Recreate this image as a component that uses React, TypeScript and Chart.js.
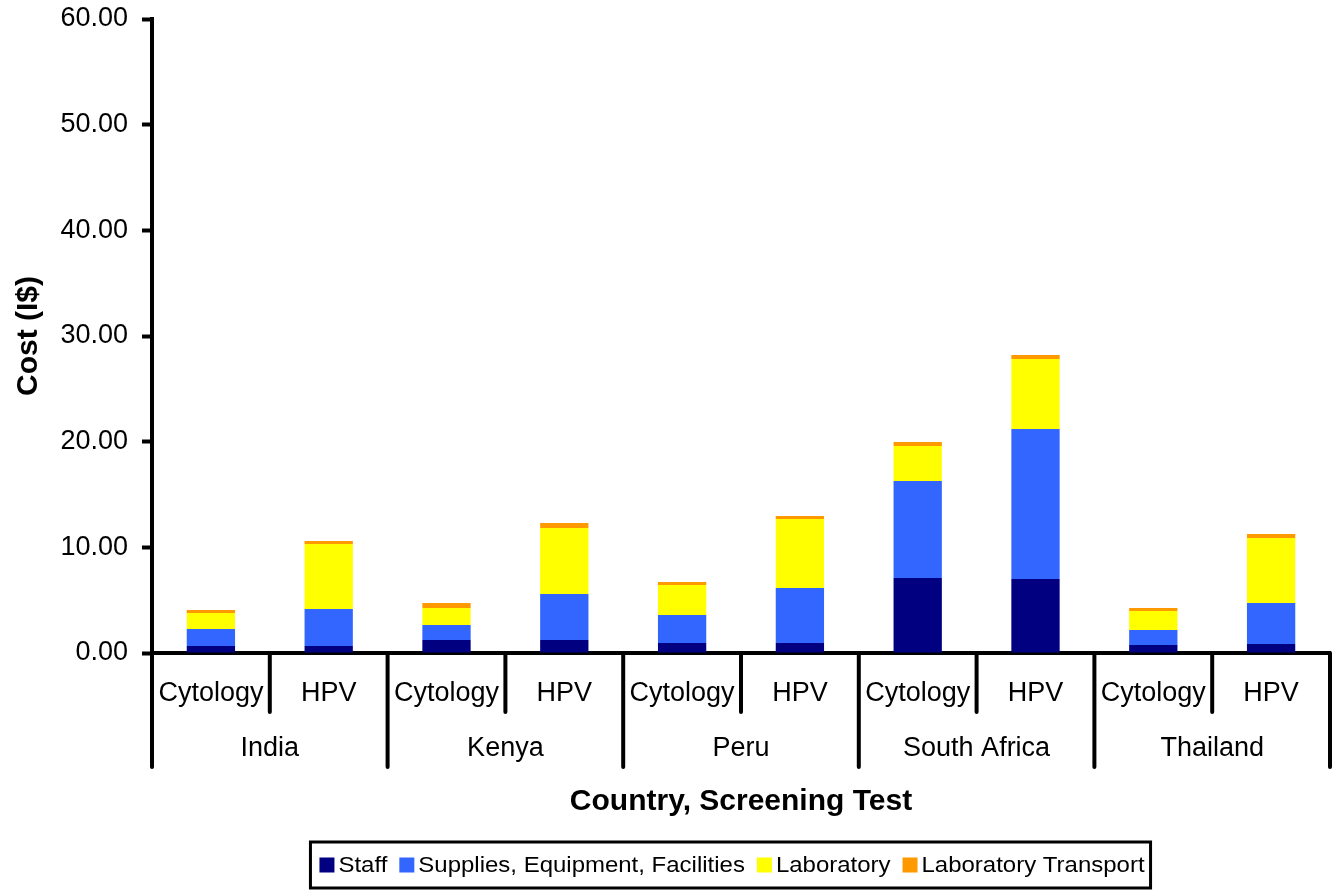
import React, { useEffect, useRef } from "react";
import { Chart, registerables } from "chart.js";

Chart.register(...registerables);

const FONT = "'Liberation Sans', Arial, Helvetica, sans-serif";

// Data
const countries = ["India", "Kenya", "Peru", "South Africa", "Thailand"];
const tests = ["Cytology", "HPV"];
const barLabels = countries.flatMap(() => tests);
const staff = [0.66, 0.66, 1.23, 1.23, 0.95, 0.95, 7.1, 7.0, 0.76, 0.85];
const supplies = [1.61, 3.5, 1.42, 4.35, 2.65, 5.2, 9.18, 14.2, 1.42, 3.88];
const laboratory = [1.52, 6.16, 1.61, 6.25, 2.83, 6.53, 3.31, 6.62, 1.79, 6.15];
const transport = [0.28, 0.28, 0.47, 0.47, 0.29, 0.29, 0.38, 0.38, 0.29, 0.38];
const seriesNames = ["Staff", "Supplies, Equipment, Facilities", "Laboratory", "Laboratory Transport"];
const seriesColors = ["#000080", "#3366FF", "#FFFF00", "#FF9900"];
const yMin = 0;
const yMax = 60;
const yStep = 10;
const yTitle = "Cost (I$)";
const xTitle = "Country, Screening Test";

const groupAxisPlugin = {
  id: "groupAxis",
  afterDraw(chart: any) {
    const { ctx, chartArea, scales } = chart;
    const x = scales.x;
    const n = chart.data.labels.length;
    const w = (chartArea.right - chartArea.left) / n;
    ctx.save();
    ctx.strokeStyle = "#000";
    ctx.lineWidth = 4;
    ctx.lineCap = "round";
    for (let i = 0; i <= n; i++) {
      const px = chartArea.left + i * w;
      const end = i % 2 === 0 ? chartArea.bottom + 114 : chartArea.bottom + 59;
      ctx.beginPath();
      ctx.moveTo(px, chartArea.bottom);
      ctx.lineTo(px, end);
      ctx.stroke();
    }
    ctx.fillStyle = "#000";
    ctx.font = `27px ${FONT}`;
    ctx.textAlign = "center";
    ctx.textBaseline = "middle";
    countries.forEach((c, k) => {
      const cx = (x.getPixelForValue(2 * k) + x.getPixelForValue(2 * k + 1)) / 2;
      ctx.fillText(c, cx, chartArea.bottom + 96);
    });
    ctx.restore();
  },
};

const boxLegendPlugin = {
  id: "boxLegend",
  afterDraw(chart: any) {
    const { ctx, chartArea } = chart;
    ctx.save();
    ctx.font = `22px ${FONT}`;
    const sx = 1.09;
    const sw = 15;
    const gapST = 4;
    const gapItem = 12;
    const items = chart.data.datasets.map((d: any) => ({
      label: d.label,
      color: d.backgroundColor,
      tw: ctx.measureText(d.label).width * sx,
    }));
    const total =
      items.reduce((a: number, it: any) => a + sw + gapST + it.tw, 0) + gapItem * (items.length - 1);
    const center = (chartArea.left + chartArea.right) / 2 - 9;
    let xPos = center - total / 2;
    const top = chart.height - 51;
    const bottom = chart.height - 5;
    const midY = (top + bottom) / 2;
    ctx.strokeStyle = "#000";
    ctx.lineWidth = 3;
    ctx.strokeRect(xPos - 9, top, total + 15, bottom - top);
    ctx.textBaseline = "middle";
    ctx.textAlign = "left";
    items.forEach((it: any) => {
      ctx.fillStyle = it.color;
      ctx.fillRect(xPos, midY - sw / 2, sw, sw);
      xPos += sw + gapST;
      ctx.fillStyle = "#000";
      ctx.save();
      ctx.translate(xPos, midY + 1);
      ctx.scale(sx, 1);
      ctx.fillText(it.label, 0, 0);
      ctx.restore();
      xPos += it.tw + gapItem;
    });
    ctx.restore();
  },
};

export default function App() {
  const ref = useRef<HTMLCanvasElement>(null);
  useEffect(() => {
    document.body.style.margin = "0";
    const values = [staff, supplies, laboratory, transport];
    const chart = new Chart(ref.current as HTMLCanvasElement, {
      type: "bar",
      data: {
        labels: barLabels,
        datasets: values.map((v, i) => ({
          label: seriesNames[i],
          data: v,
          backgroundColor: seriesColors[i],
          borderWidth: 0,
          barPercentage: 0.41,
          categoryPercentage: 1,
        })),
      },
      options: {
        responsive: false,
        animation: false,
        devicePixelRatio: 1,
        layout: { padding: { top: 19, right: 10, bottom: 0, left: 0 } },
        plugins: {
          legend: { display: false },
          tooltip: { enabled: false },
        },
        scales: {
          x: {
            stacked: true,
            afterFit: (s: any) => {
              s.height = 240;
              s.paddingLeft = 0;
              s.paddingRight = 0;
            },
            grid: { display: true, drawOnChartArea: false, drawTicks: false },
            border: { display: true, color: "#000", width: 4 },
            ticks: {
              color: "#000",
              font: { family: FONT, size: 27 },
              padding: 24,
              maxRotation: 0,
              autoSkip: false,
            },
            title: {
              display: true,
              text: xTitle,
              color: "#000",
              font: { family: FONT, size: 30, weight: "bold" },
              padding: { top: 0, bottom: 73 },
            },
          },
          y: {
            stacked: true,
            min: yMin,
            max: yMax,
            afterFit: (s: any) => {
              s.width = 152;
              s.paddingTop = 0;
              s.paddingBottom = 0;
            },
            grid: {
              drawOnChartArea: false,
              drawTicks: true,
              tickLength: 10,
              tickWidth: 4,
              tickColor: "#000",
            },
            border: { display: true, color: "#000", width: 4 },
            ticks: {
              stepSize: yStep,
              color: "#000",
              font: { family: FONT, size: 27 },
              padding: 14,
              callback: (v: any) => Number(v).toFixed(2),
            },
            title: {
              display: true,
              text: yTitle,
              color: "#000",
              font: { family: FONT, size: 30, weight: "bold" },
              padding: { top: 11, bottom: 0 },
            },
          },
        },
      },
      plugins: [groupAxisPlugin, boxLegendPlugin],
    });
    return () => chart.destroy();
  }, []);
  return (
    <div style={{ width: 1340, height: 893 }}>
      <canvas ref={ref} width={1340} height={893} style={{ display: "block" }} />
    </div>
  );
}
